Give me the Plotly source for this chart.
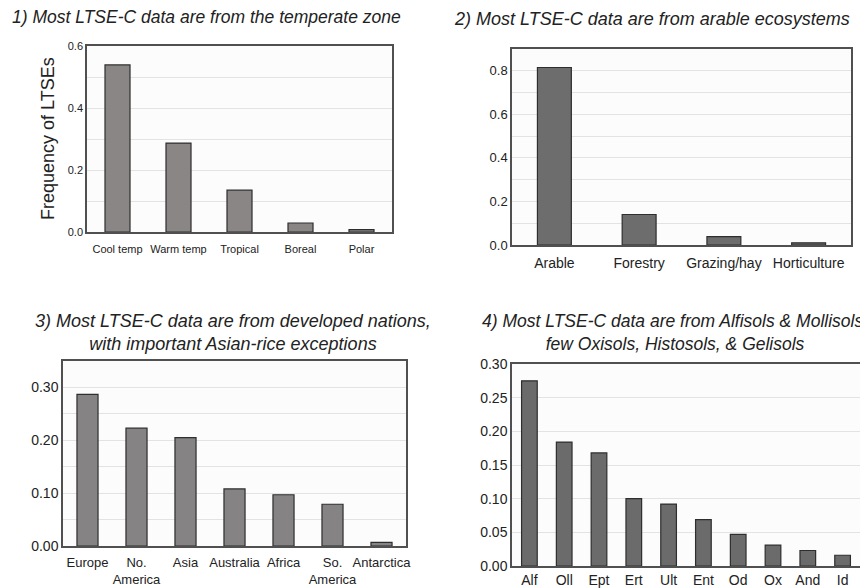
import plotly.graph_objects as go

# ---- data ----
zone_cats = ["Cool temp", "Warm temp", "Tropical", "Boreal", "Polar"]
zone_vals = [0.539, 0.287, 0.135, 0.029, 0.0075]

eco_cats = ["Arable", "Forestry", "Grazing/hay", "Horticulture"]
eco_vals = [0.815, 0.14, 0.038, 0.01]

cont_cats = ["Europe", "No.<br>America", "Asia", "Australia", "Africa", "So.<br>America", "Antarctica"]
cont_vals = [0.287, 0.223, 0.205, 0.108, 0.097, 0.079, 0.007]

soil_cats = ["Alf", "Oll", "Ept", "Ert", "Ult", "Ent", "Od", "Ox", "And", "Id"]
soil_vals = [0.275, 0.184, 0.168, 0.100, 0.092, 0.069, 0.047, 0.031, 0.023, 0.016]

titles = [
    "1) Most LTSE-C data are from the temperate zone",
    "2) Most LTSE-C data are from arable ecosystems",
    "3) Most LTSE-C data are from developed nations,<br>with important Asian-rice exceptions",
    "4) Most LTSE-C data are from Alfisols & Mollisols,<br>few Oxisols, Histosols, & Gelisols",
]
ytitle = "Frequency of LTSEs"

W, H = 860, 588
REG = "Liberation Sans, Arial, Helvetica, sans-serif"
LINE = "#505050"
GRID = "#e3e3e3"


def px_x(a, b):
    return [a / W, b / W]


def px_y(top, bottom):
    return [1 - bottom / H, 1 - top / H]


fig = go.Figure()

panels = [
    dict(cats=zone_cats, vals=zone_vals, color="#8a8686", width=0.41,
         xd=px_x(87, 392), yd=px_y(46, 232), rng=[0, 0.6], dtick=0.2, minor=0.1,
         tfmt=".1f", xfont=dict(family=REG, size=11, color="#222"), xstand=6,
         yfont=dict(family=REG, size=11, color="#222"), mirror_y=True),
    dict(cats=eco_cats, vals=eco_vals, color="#6d6d6d", width=0.40,
         xd=px_x(512, 851), yd=px_y(49, 245), rng=[0, 0.9], dtick=0.2, minor=0.1,
         tfmt=".1f", xfont=dict(family=REG, size=14, color="#222"), xstand=4,
         yfont=dict(family=REG, size=13, color="#222"), mirror_y=True),
    dict(cats=cont_cats, vals=cont_vals, color="#858383", width=0.43,
         xd=px_x(63, 406), yd=px_y(361, 546), rng=[0, 0.35], dtick=0.1, minor=0.05,
         tfmt=".2f", xfont=dict(family=REG, size=13, color="#222"), xstand=4,
         yfont=dict(family=REG, size=14, color="#222"), mirror_y=True),
    dict(cats=soil_cats, vals=soil_vals, color="#6b6b6b", width=0.45,
         xd=px_x(512, 860), yd=px_y(364, 566), rng=[0, 0.30], dtick=0.05, minor=None,
         tfmt=".2f", xfont=dict(family=REG, size=14, color="#222"), xstand=0,
         yfont=dict(family=REG, size=14, color="#222"), mirror_y=False),
]

for i, p in enumerate(panels):
    n = i + 1
    sfx = "" if n == 1 else str(n)
    fig.add_trace(go.Bar(
        x=p["cats"], y=p["vals"], width=p["width"],
        marker=dict(color=p["color"], line=dict(color="#2e2e2e", width=1.2)),
        xaxis="x" + sfx, yaxis="y" + sfx, showlegend=False,
    ))
    xa = dict(domain=p["xd"], anchor="y" + sfx, type="category",
              range=[-0.5, len(p["cats"]) - 0.5], showgrid=False,
              showline=True, linecolor=LINE, linewidth=1.5, mirror=True,
              ticks="", tickangle=0, tickfont=p["xfont"], fixedrange=True,
              ticklabelstandoff=p["xstand"], automargin=False)
    ya = dict(domain=p["yd"], anchor="x" + sfx, range=p["rng"], dtick=p["dtick"],
              tick0=0, tickformat=p["tfmt"], showgrid=True, gridcolor=GRID,
              gridwidth=1, zeroline=False, showline=True, linecolor=LINE,
              linewidth=1.5, mirror=p["mirror_y"], ticks="", tickfont=p["yfont"],
              fixedrange=True, automargin=False)
    if p["minor"]:
        ya["minor"] = dict(dtick=p["minor"], tick0=0, showgrid=True,
                           gridcolor=GRID, gridwidth=1, ticks="")
    fig.layout["xaxis" + sfx] = xa
    fig.layout["yaxis" + sfx] = ya

title_pos = [(206, 17, 17.5), (652, 19, 18), (233, 332, 18), (675, 332, 17.5)]
for t, (x, y, fs) in zip(titles, title_pos):
    fig.add_annotation(text="<i>" + t + "</i>", x=x / W, y=1 - y / H,
                       xref="paper", yref="paper", showarrow=False,
                       xanchor="center", yanchor="middle",
                       font=dict(family=REG, size=fs, color="#222"), align="center")

fig.add_annotation(text=ytitle, x=48 / W, y=1 - 139 / H, xref="paper", yref="paper",
                   showarrow=False, textangle=-90, xanchor="center", yanchor="middle",
                   font=dict(family=REG, size=18, color="#222"))

fig.update_layout(
    template="none",
    width=W, height=H, margin=dict(l=0, r=0, t=0, b=0, autoexpand=False),
    paper_bgcolor="white", plot_bgcolor="#fcfcfc",
    bargap=0.5,
)

fig.write_html("out.html", config={"displayModeBar": False},
               post_script="document.body.style.margin='0';document.body.style.overflow='hidden';")
